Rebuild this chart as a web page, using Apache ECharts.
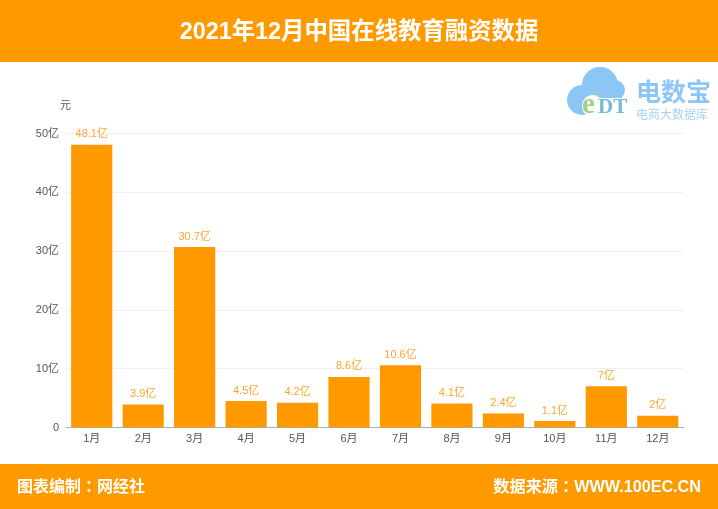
<!DOCTYPE html>
<html>
<head>
<meta charset="utf-8">
<style>
  html, body { margin: 0; padding: 0; background: #fff; }
  #main { width: 718px; height: 509px; }
</style>
<script src="https://cdn.jsdelivr.net/npm/echarts@6/dist/echarts.min.js"></script>
</head>
<body>
<div id="main"></div>
<script>
const months = ['1月', '2月', '3月', '4月', '5月', '6月', '7月', '8月', '9月', '10月', '11月', '12月'];
const amounts = [48.1, 3.9, 30.7, 4.5, 4.2, 8.6, 10.6, 4.1, 2.4, 1.1, 7, 2];
const titleText = '2021年12月中国在线教育融资数据';
const footerLeft = '图表编制：网经社';
const footerRight = '数据来源：WWW.100EC.CN';
const orange = '#ff9900';
const cjk = '"Liberation Sans", "Noto Sans CJK SC", sans-serif';
const cjkFooter = '"Liberation Sans", "Noto Sans CJK TC", sans-serif';
const cloudBlue = '#8cc6f7';

let chart = echarts.init(document.getElementById('main'));

let option = {
    animation: false,
    backgroundColor: '#fff',
    textStyle: { fontFamily: cjk },
    grid: { left: 66, right: 34.5, top: 133.5, bottom: 81.5 },
    xAxis: {
        type: 'category',
        data: months,
        axisLine: { lineStyle: { color: '#8fb8e0', width: 1 } },
        axisTick: { show: false },
        axisLabel: { color: '#555', fontSize: 11, margin: 6 }
    },
    yAxis: {
        type: 'value',
        name: '元',
        nameLocation: 'end',
        nameGap: 22,
        nameTextStyle: { color: '#555', fontSize: 11, align: 'right', padding: [0, -5, 0, 0] },
        min: 0,
        max: 50,
        interval: 10,
        axisLine: { show: false },
        axisTick: { show: false },
        axisLabel: {
            color: '#555',
            fontSize: 11,
            margin: 7,
            formatter: v => v === 0 ? '0' : v + '亿'
        },
        splitLine: { lineStyle: { color: '#f0f0f0', width: 1 } }
    },
    series: [{
        type: 'bar',
        data: amounts,
        barCategoryGap: '20%',
        itemStyle: { color: orange },
        label: {
            show: true,
            position: 'top',
            distance: 5,
            color: '#ffa52e',
            fontSize: 11,
            formatter: p => p.value + '亿'
        }
    }],
    graphic: [
        // header and footer bands
        { type: 'rect', z: 10, shape: { x: 0, y: 0, width: 718, height: 62 }, style: { fill: orange } },
        { type: 'rect', z: 10, shape: { x: 0, y: 464, width: 718, height: 45 }, style: { fill: orange } },
        { type: 'text', z: 11, x: 359, y: 33, style: { text: titleText, fill: '#fff', font: 'bold 23.4px ' + cjk, align: 'center', verticalAlign: 'middle' } },
        { type: 'text', z: 11, x: 17, y: 488, style: { text: footerLeft, fill: '#fff', font: 'bold 16px ' + cjkFooter, align: 'left', verticalAlign: 'middle' } },
        { type: 'text', z: 11, x: 701, y: 488, style: { text: footerRight, fill: '#fff', font: 'bold 16.2px ' + cjkFooter, align: 'right', verticalAlign: 'middle' } },
        // logo
        { type: 'circle', z: 5, shape: { cx: 582, cy: 100, r: 15 }, style: { fill: cloudBlue } },
        { type: 'circle', z: 5, shape: { cx: 600, cy: 85, r: 18 }, style: { fill: cloudBlue } },
        { type: 'circle', z: 5, shape: { cx: 615, cy: 90, r: 10 }, style: { fill: cloudBlue } },
        { type: 'rect', z: 5, shape: { x: 582, y: 88, width: 40, height: 12 }, style: { fill: cloudBlue } },
        { type: 'circle', z: 6, shape: { cx: 593, cy: 106, r: 11 }, style: { fill: '#fff' } },
        { type: 'rect', z: 6, shape: { x: 593, y: 98, width: 40, height: 22 }, style: { fill: '#fff' } },
        { type: 'circle', z: 7, shape: { cx: 597, cy: 92, r: 1.5 }, style: { fill: '#a5cf8c' } },
        { type: 'circle', z: 7, shape: { cx: 599, cy: 96, r: 1.5 }, style: { fill: '#a5cf8c' } },
        { type: 'text', z: 7, x: 582, y: 106, style: { text: 'e', fill: '#a5cf8c', font: 'bold 29px "Liberation Serif", serif', align: 'left', verticalAlign: 'middle' } },
        { type: 'text', z: 7, x: 598, y: 108, style: { text: 'DT', fill: '#74bcd6', font: 'bold 21px "Liberation Serif", serif', align: 'left', verticalAlign: 'middle' } },
        { type: 'text', z: 7, x: 636, y: 94, style: { text: '电数宝', fill: '#8cc6f7', font: 'bold 25px ' + cjk, align: 'left', verticalAlign: 'middle' } },
        { type: 'text', z: 7, x: 636, y: 116, style: { text: '电商大数据库', fill: '#a9d2f4', font: '12px ' + cjk, align: 'left', verticalAlign: 'middle' } }
    ]
};

chart.setOption(option);
</script>
</body>
</html>
